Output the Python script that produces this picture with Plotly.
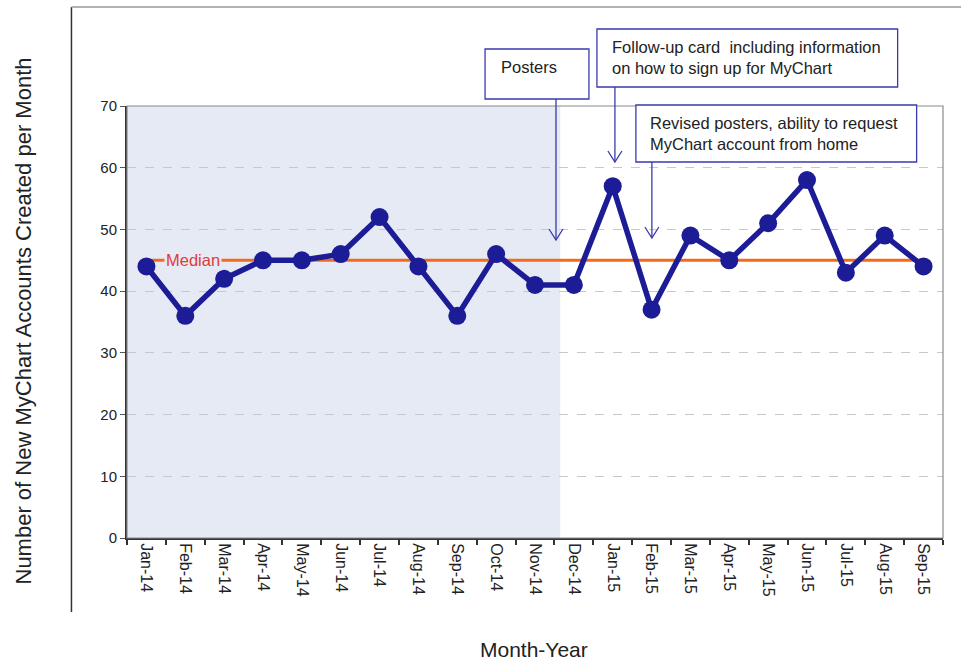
import plotly.graph_objects as go

months = ["Jan-14", "Feb-14", "Mar-14", "Apr-14", "May-14", "Jun-14", "Jul-14", "Aug-14",
          "Sep-14", "Oct-14", "Nov-14", "Dec-14", "Jan-15", "Feb-15", "Mar-15", "Apr-15",
          "May-15", "Jun-15", "Jul-15", "Aug-15", "Sep-15"]
accounts = [44, 36, 42, 45, 45, 46, 52, 44, 36, 46, 41, 41, 57, 37, 49, 45, 51, 58, 43, 49, 44]
median_value = 45
y_ticks = [0, 10, 20, 30, 40, 50, 60, 70]

W, H = 961, 663
L, R, T, B = 126.6, 943.4, 106, 538
FONT = "Liberation Sans, Arial, sans-serif"

def px(x):
    return (x - L) / (R - L)

def py(y):
    return (B - y) / (B - T)

fig = go.Figure()

fig.add_trace(go.Scatter(
    x=list(range(len(months))), y=[median_value] * len(months), mode="lines",
    line=dict(color="#f26b1d", width=3), hoverinfo="skip", showlegend=False))

fig.add_trace(go.Scatter(
    x=list(range(len(months))), y=accounts, mode="lines+markers",
    line=dict(color="#1c1c96", width=5.5),
    marker=dict(color="#1c1c96", size=18), showlegend=False))

shapes = []
shapes.append(dict(type="rect", xref="x", yref="paper", x0=-0.5, x1=10.65, y0=0, y1=1,
                   fillcolor="#e5eaf4", line=dict(width=0), layer="below"))
shapes.append(dict(type="rect", xref="paper", yref="paper", x0=0, x1=1, y0=0, y1=1,
                   line=dict(color="#8a8a8a", width=1.2), layer="above"))
shapes.append(dict(type="line", xref="paper", yref="paper", x0=px(71), x1=px(71), y0=py(7), y1=py(612),
                   line=dict(color="#333333", width=1.5)))
shapes.append(dict(type="line", xref="paper", yref="paper", x0=px(71), x1=px(962), y0=py(7), y1=py(7),
                   line=dict(color="#999999", width=1.5)))

BOX = "#3a3aae"
def box(x0, y0, x1, y1):
    shapes.append(dict(type="rect", xref="paper", yref="paper", x0=px(x0), x1=px(x1), y0=py(y0), y1=py(y1),
                       fillcolor="white", line=dict(color=BOX, width=1.3), layer="above"))

def arrow(x, y0, y1):
    shapes.append(dict(type="line", xref="paper", yref="paper", x0=px(x), x1=px(x), y0=py(y0), y1=py(y1),
                       line=dict(color=BOX, width=1.3), layer="above"))
    path = "M {a},{b} L {c},{d} L {e},{f}".format(
        a=px(x - 7), b=py(y1 - 11), c=px(x), d=py(y1), e=px(x + 7), f=py(y1 - 11))
    shapes.append(dict(type="path", xref="paper", yref="paper", path=path,
                       line=dict(color=BOX, width=1.3), layer="above"))

box(485, 49, 589, 99)
box(597, 29, 898, 87)
box(636, 105, 917, 162)
arrow(556, 99, 240)
arrow(615, 87, 162)
arrow(652, 162, 238)

AF = dict(family=FONT, size=16.5, color="#222222")
annotations = [
    dict(text="Posters", xref="paper", yref="paper", x=px(499), y=py(67), xanchor="left", yanchor="middle",
         showarrow=False, align="left", font=AF),
    dict(text="Follow-up card  including information<br>on how to sign up for MyChart", xref="paper", yref="paper",
         x=px(610), y=py(57.5), xanchor="left", yanchor="middle", showarrow=False, align="left", font=AF),
    dict(text="Revised posters, ability to request<br>MyChart account from home", xref="paper", yref="paper",
         x=px(648), y=py(133), xanchor="left", yanchor="middle", showarrow=False, align="left", font=AF),
    dict(text="Median", xref="x", yref="y", x=1.2, y=median_value, xanchor="center", yanchor="middle",
         showarrow=False, bgcolor="#e5eaf4", borderpad=1,
         font=dict(family=FONT, size=16.5, color="#e03a3a")),
    dict(text="Number of New MyChart Accounts Created per Month", xref="paper", yref="paper",
         x=px(22), y=py(321), xanchor="center", yanchor="middle", textangle=-90, showarrow=False,
         font=dict(family=FONT, size=22, color="#222222")),
    dict(text="Month-Year", xref="paper", yref="paper", x=px(534), y=py(649), xanchor="center",
         yanchor="middle", showarrow=False, font=dict(family=FONT, size=21, color="#222222")),
]

fig.update_layout(
    width=W, height=H,
    margin=dict(l=L, r=W - R, t=T, b=H - B, pad=0),
    paper_bgcolor="white", plot_bgcolor="white",
    font=dict(family=FONT, color="#222222"),
    shapes=shapes, annotations=annotations, showlegend=False,
)
fig.update_xaxes(
    type="linear", range=[-0.5, 20.5], tickmode="array",
    tickvals=list(range(len(months))), ticktext=months, tickangle=90,
    showgrid=False, zeroline=False, showline=True, linecolor="#333333", linewidth=2,
    ticks="", tickfont=dict(size=16, family=FONT, color="#222222"),
)
fig.update_xaxes(minor=dict(tickmode="array", tickvals=[i - 0.5 for i in range(len(months) + 1)],
                            ticks="outside", ticklen=5, tickcolor="#333333", tickwidth=1.5, showgrid=False))
fig.update_yaxes(
    range=[0, 70], tickmode="array", tickvals=y_ticks,
    showgrid=True, gridcolor="#c8c8c8", griddash="dash", gridwidth=1,
    zeroline=False, showline=True, linecolor="#333333", linewidth=2,
    ticks="outside", ticklen=5, tickcolor="#555555",
    tickfont=dict(size=15, family=FONT, color="#222222"),
)

fig.write_html("out.html", config={"displayModeBar": False},
               post_script="document.body.style.margin='0';document.body.style.padding='0';")
